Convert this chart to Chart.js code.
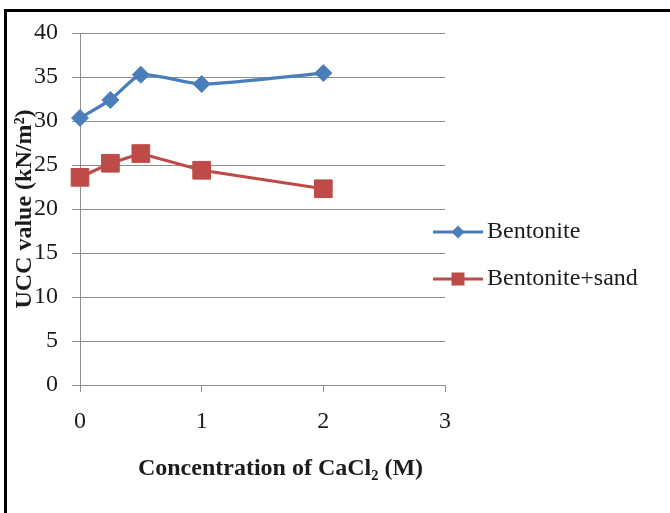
<!DOCTYPE html>
<html>
<head>
<meta charset="utf-8">
<script src="https://cdn.jsdelivr.net/npm/chart.js@4/dist/chart.umd.min.js"></script>
<style>
  html, body { margin: 0; padding: 0; background: #fff; }
  #wrap { position: relative; width: 670px; height: 513px; overflow: hidden; background: #fff; }
  #c { position: absolute; left: 0; top: 0; }
  #frame { position: absolute; left: 4px; top: 9px; width: 700px; height: 600px;
           border-top: 3px solid #000; border-left: 3px solid #000; pointer-events: none; }
</style>
</head>
<body>
<div id="wrap">
  <canvas id="c" width="670" height="513"></canvas>
  <div id="frame"></div>
</div>
<script>
// ---- data ----
const concentrations = [0, 0.25, 0.5, 1, 2];
const bentonite = [30.35, 32.4, 35.25, 34.2, 35.45];
const bentoniteSand = [23.6, 25.2, 26.3, 24.4, 22.3];
const seriesNames = ['Bentonite', 'Bentonite+sand'];
const xTitle = 'Concentration of CaCl\u2082 (M)';
const yTitle = 'UCC value (kN/m\u00b2)';

const BLUE = '#4a7ebb';
const RED = '#be4b48';
const GRID = '#8e8e8e';
const TXT = '#1c1c1c';
const FONT = "'Liberation Serif', 'Times New Roman', serif";

function pts(xs, ys) { return xs.map((x, i) => ({ x: x, y: ys[i] })); }

const legendPlugin = {
  id: 'customLegend',
  afterDraw(chart) {
    const ctx = chart.ctx;
    const items = [
      { name: seriesNames[0], color: BLUE, style: 'diamond', y: 232 },
      { name: seriesNames[1], color: RED, style: 'square', y: 279 }
    ];
    ctx.save();
    items.forEach(it => {
      ctx.strokeStyle = it.color;
      ctx.lineWidth = 3;
      ctx.beginPath();
      ctx.moveTo(433, it.y);
      ctx.lineTo(483, it.y);
      ctx.stroke();
      ctx.fillStyle = it.color;
      ctx.beginPath();
      const cx = 458, cy = it.y;
      if (it.style === 'diamond') {
        const r = 6.5;
        ctx.moveTo(cx, cy - r); ctx.lineTo(cx + r, cy); ctx.lineTo(cx, cy + r); ctx.lineTo(cx - r, cy);
        ctx.closePath();
      } else {
        const h = 6.5;
        ctx.rect(cx - h, cy - h, 2 * h, 2 * h);
      }
      ctx.fill();
      ctx.fillStyle = TXT;
      ctx.font = '24px ' + FONT;
      ctx.textBaseline = 'middle';
      ctx.textAlign = 'left';
      ctx.fillText(it.name, 487, it.y);
    });
    ctx.restore();
  }
};

new Chart(document.getElementById('c'), {
  type: 'line',
  data: {
    datasets: [
      {
        label: seriesNames[0],
        data: pts(concentrations, bentonite),
        borderColor: BLUE,
        backgroundColor: BLUE,
        borderWidth: 3.2,
        tension: 0.2,
        pointStyle: 'rectRot',
        pointRadius: 8.5,
        pointBorderWidth: 1,
        pointBackgroundColor: BLUE,
        pointBorderColor: BLUE
      },
      {
        label: seriesNames[1],
        data: pts(concentrations, bentoniteSand),
        borderColor: RED,
        backgroundColor: RED,
        borderWidth: 3.2,
        tension: 0,
        pointStyle: 'rect',
        pointRadius: 12.5,
        pointBorderWidth: 1,
        pointBackgroundColor: RED,
        pointBorderColor: RED
      }
    ]
  },
  options: {
    responsive: false,
    animation: false,
    clip: false,
    layout: { padding: { left: 0, top: 33, right: 225, bottom: 0 } },
    plugins: { legend: { display: false }, tooltip: { enabled: false } },
    scales: {
      x: {
        type: 'linear',
        min: 0, max: 3,
        ticks: { stepSize: 1, color: TXT, padding: 15, font: { family: FONT, size: 24 } },
        grid: { drawOnChartArea: false, drawTicks: true, tickLength: 7, color: GRID, lineWidth: 1 },
        border: { color: GRID, width: 1 },
        title: {
          display: true,
          text: '\u00a0\u00a0\u00a0\u00a0\u00a0\u00a0' + xTitle,
          color: TXT,
          font: { family: FONT, size: 24, weight: 'bold' },
          padding: { top: 0, bottom: 30 }
        },
        afterFit(scale) { scale.height = 128; }
      },
      y: {
        min: 0, max: 40,
        ticks: { stepSize: 5, color: TXT, padding: 14, font: { family: FONT, size: 24 } },
        grid: { color: GRID, lineWidth: 1, tickLength: 8, drawTicks: true },
        border: { color: GRID, width: 1 },
        title: {
          display: true,
          text: yTitle,
          color: TXT,
          font: { family: FONT, size: 24, weight: 'bold' },
          padding: { top: 10, bottom: 0 }
        },
        afterFit(scale) { scale.width = 80; }
      }
    }
  },
  plugins: [legendPlugin]
});
</script>
</body>
</html>
